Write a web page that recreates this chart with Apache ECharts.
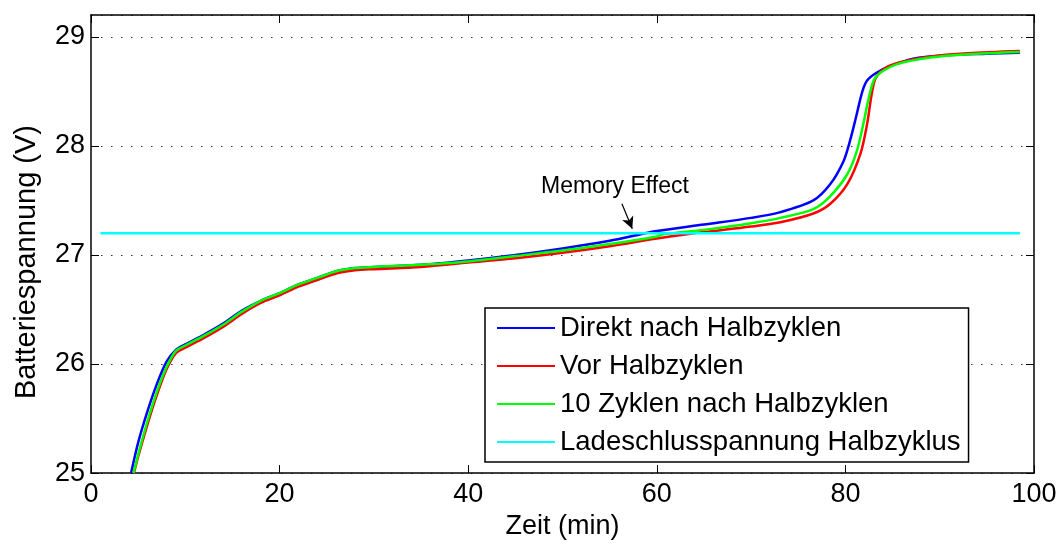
<!DOCTYPE html>
<html>
<head>
<meta charset="utf-8">
<script src="https://cdn.jsdelivr.net/npm/echarts@6/dist/echarts.min.js"></script>
<style>html,body{margin:0;padding:0;background:#fff;}#c{width:1063px;height:545px;}</style>
</head>
<body>
<div id="c"></div>
<script>
const seriesNames = ['Direkt nach Halbzyklen', 'Vor Halbzyklen', '10 Zyklen nach Halbzyklen', 'Ladeschlusspannung Halbzyklus'];
const xTicks = [0, 20, 40, 60, 80, 100];
const yTicks = [25, 26, 27, 28, 29];

const blueT = [4.25, 5, 6, 7, 8, 9, 10, 12, 14, 16, 18, 20, 22, 24, 26, 28, 30, 35, 40, 45, 50, 55, 58.3, 60, 65, 70, 73, 76.6, 78.4, 79.8, 80.5, 81.2, 81.8, 82.3, 83.3, 84.7, 87.2, 90.7, 95, 98.5];
const blueV = [25.0, 25.28, 25.57, 25.82, 26.02, 26.13, 26.18, 26.27, 26.37, 26.49, 26.58, 26.65, 26.73, 26.79, 26.85, 26.88, 26.89, 26.91, 26.95, 27.0, 27.06, 27.13, 27.19, 27.22, 27.28, 27.34, 27.39, 27.5, 27.65, 27.86, 28.05, 28.29, 28.5, 28.6, 28.67, 28.73, 28.8, 28.83, 28.845, 28.855];

const redT = [4.55, 5, 6, 7, 8, 9, 10, 12, 14, 16, 18, 20, 22, 24, 26, 28, 30, 35, 40, 45, 50, 55, 60, 63.2, 65, 70, 73.1, 76.6, 78.4, 80.2, 81.6, 82.3, 82.8, 83.2, 84.0, 85.5, 89, 93, 98.5];
const redV = [25.0, 25.15, 25.45, 25.72, 25.95, 26.1, 26.15, 26.24, 26.34, 26.46, 26.56, 26.63, 26.71, 26.77, 26.83, 26.86, 26.87, 26.89, 26.93, 26.97, 27.02, 27.08, 27.15, 27.19, 27.21, 27.26, 27.3, 27.38, 27.47, 27.65, 27.93, 28.2, 28.48, 28.62, 28.70, 28.76, 28.82, 28.85, 28.87];

const greenT = [4.5, 5, 6, 7, 8, 9, 10, 12, 14, 16, 18, 20, 22, 24, 26, 28, 30, 35, 40, 45, 50, 55, 60, 60.7, 65, 70, 73.1, 76.6, 78.4, 80.2, 81.2, 81.9, 82.4, 83.0, 83.7, 85.5, 89, 93, 98.5];
const greenV = [25.0, 25.17, 25.48, 25.75, 25.97, 26.12, 26.17, 26.26, 26.36, 26.48, 26.58, 26.65, 26.73, 26.79, 26.85, 26.88, 26.89, 26.91, 26.94, 26.99, 27.04, 27.1, 27.17, 27.19, 27.23, 27.29, 27.34, 27.42, 27.54, 27.74, 27.95, 28.2, 28.41, 28.6, 28.67, 28.75, 28.81, 28.84, 28.86];

const cyanT = [1, 98.5];
const cyanV = [27.2, 27.2];

const annotationText = 'Memory Effect';
const arrowFrom = [56.3, 27.47];
const arrowTo = [57.4, 27.24];

const zip = (a, b) => a.map((x, i) => [x, b[i]]);
const FONT = "'Liberation Sans', Arial, sans-serif";
const colors = ['#0000ff', '#ff0000', '#00ff00', '#00ffff'];

const chart = echarts.init(document.getElementById('c'));
const lineSeries = (name, data, color, extra) => Object.assign({
  name, type: 'line', data, showSymbol: false, symbol: 'none',
  smooth: 0.3,
  lineStyle: { color, width: 2.5 }, itemStyle: { color },
  xAxisIndex: 0, yAxisIndex: 0, animation: false, z: 3
}, extra || {});

chart.setOption({
  animation: false,
  backgroundColor: '#fff',
  grid: { left: 91, right: 29, top: 15, bottom: 71, containLabel: false },
  xAxis: [{
    type: 'value', min: 0, max: 100, interval: 20, position: 'bottom',
    name: 'Zeit (min)', nameLocation: 'middle', nameGap: 34,
    nameTextStyle: { fontFamily: FONT, fontSize: 27, color: '#000' },
    axisLine: { show: true, onZero: false, lineStyle: { color: '#000', width: 1.5 } },
    axisTick: { show: true, inside: true, length: 8, lineStyle: { color: '#000', width: 1 } },
    axisLabel: { fontFamily: FONT, fontSize: 27, color: '#000', margin: 8,
      formatter: v => xTicks.includes(v) ? String(v) : '' },
    splitLine: { show: false }
  }, {
    type: 'value', min: 0, max: 100, interval: 20, position: 'top',
    axisLine: { show: true, onZero: false, lineStyle: { color: '#000', width: 1.5 } },
    axisTick: { show: true, inside: true, length: 8, lineStyle: { color: '#000', width: 1 } },
    axisLabel: { show: false }, splitLine: { show: false }
  }],
  yAxis: [{
    type: 'value', min: 25, max: 29.2, interval: 1, position: 'left',
    name: 'Batteriespannung (V)', nameLocation: 'middle', nameGap: 50,
    nameTextStyle: { fontFamily: FONT, fontSize: 29, color: '#000', padding: [0, 36, 0, 0] },
    axisLine: { show: true, onZero: false, lineStyle: { color: '#000', width: 1.5 } },
    axisTick: { show: true, inside: true, length: 8, lineStyle: { color: '#000', width: 1 } },
    axisLabel: { fontFamily: FONT, fontSize: 27, color: '#000', margin: 6, showMaxLabel: false,
      formatter: v => yTicks.includes(v) ? String(v) : '' },
    splitLine: { show: true, lineStyle: { color: '#333', width: 1, type: [1.5, 8.5] } }
  }, {
    type: 'value', min: 25, max: 29.2, interval: 1, position: 'right',
    axisLine: { show: true, onZero: false, lineStyle: { color: '#000', width: 1.5 } },
    axisTick: { show: true, inside: true, length: 8, lineStyle: { color: '#000', width: 1 } },
    axisLabel: { show: false }, splitLine: { show: false }
  }],
  legend: {
    show: true, orient: 'vertical', left: 485, top: 308,
    data: seriesNames.map(n => ({ name: n, icon: 'rect' })),
    itemWidth: 58, itemHeight: 2, itemGap: 10,
    padding: [6, 8, 6, 12],
    borderColor: '#000', borderWidth: 1.5, backgroundColor: '#fff',
    textStyle: { fontFamily: FONT, fontSize: 27.5, color: '#000', lineHeight: 28 },
    selectedMode: false, z: 10
  },
  graphic: [{
    type: 'text', left: 541, top: 175, z: 20,
    style: { text: annotationText, font: '23px ' + FONT, fill: '#000' }
  }],
  series: [
    lineSeries(seriesNames[0], zip(blueT, blueV), colors[0]),
    lineSeries(seriesNames[1], zip(redT, redV), colors[1]),
    lineSeries(seriesNames[2], zip(greenT, greenV), colors[2]),
    lineSeries(seriesNames[3], zip(cyanT, cyanV), colors[3], {
      smooth: false,
      markLine: {
        silent: true, symbol: ['none', 'arrow'], symbolSize: [9, 12],
        label: { show: false },
        lineStyle: { color: '#000', width: 1.2, type: 'solid' },
        data: [[{ coord: arrowFrom }, { coord: arrowTo }]]
      }
    })
  ]
});
</script>
</body>
</html>
